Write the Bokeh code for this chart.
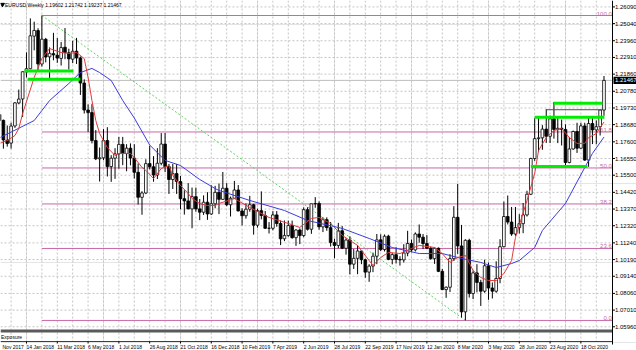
from bokeh.plotting import figure
from bokeh.models import Range1d, ColumnDataSource
from bokeh.embed import file_html
from bokeh.resources import INLINE
from bokeh.core.properties import value

# ---------------- data ----------------
header = "EURUSD,Weekly  1.19602 1.21742 1.19237 1.21467"
first_bar = -7  # bar index of the first weekly candle (0 = week of 14 Jan 2018)

opens = [1.1932, 1.1895, 1.1770, 1.1752, 1.1860, 1.2005, 1.2030, 1.2200,
         1.2220, 1.2425, 1.2460, 1.2250, 1.2405, 1.2295, 1.2315, 1.2305,
         1.2285, 1.2355, 1.2320, 1.2280, 1.2330, 1.2288, 1.2130, 1.1960,
         1.1944, 1.1768, 1.1653, 1.1659, 1.1768, 1.1604, 1.1657, 1.1684,
         1.1744, 1.1686, 1.1720, 1.1658, 1.1568, 1.1411, 1.1438, 1.1623,
         1.1603, 1.1551, 1.1625, 1.1746, 1.1604, 1.1523, 1.1560, 1.1510,
         1.1402, 1.1388, 1.1338, 1.1415, 1.1338, 1.1317, 1.1380, 1.1306,
         1.1370, 1.1442, 1.1398, 1.1468, 1.1364, 1.1405, 1.1457, 1.1325,
         1.1295, 1.1336, 1.1364, 1.1235, 1.1327, 1.1296, 1.1216, 1.1216,
         1.1300, 1.1246, 1.1150, 1.1170, 1.1233, 1.1157, 1.1205, 1.1170,
         1.1333, 1.1210, 1.1370, 1.1372, 1.1225, 1.1270, 1.1220, 1.1127,
         1.1108, 1.1200, 1.1090, 1.1142, 1.0990, 1.1027, 1.1073, 1.1018,
         1.0940, 1.0978, 1.1040, 1.1143, 1.1082, 1.1166, 1.1020, 1.1050,
         1.1020, 1.1017, 1.1060, 1.1120, 1.1080, 1.1180, 1.1160, 1.1120,
         1.1090, 1.1025, 1.1090, 1.0945, 1.0830, 1.0845, 1.1025, 1.1285,
         1.1105, 1.0690, 1.1140, 1.0805, 1.0935, 1.0875, 1.0820, 1.0980,
         1.0840, 1.0820, 1.0900, 1.1100, 1.1290, 1.1255, 1.1180, 1.1220,
         1.1245, 1.1300, 1.1430, 1.1655, 1.1780, 1.1785, 1.1840, 1.1795,
         1.1905, 1.1838, 1.1845, 1.1838, 1.1630, 1.1715, 1.1825, 1.1720,
         1.1860, 1.1645, 1.1875, 1.1835, 1.1855, 1.19602]
highs = [1.1961, 1.1900, 1.1863, 1.1881, 1.2010, 1.2089, 1.2203, 1.2323,
         1.2537, 1.2516, 1.2475, 1.2555, 1.2414, 1.2354, 1.2446, 1.2413,
         1.2388, 1.2476, 1.2346, 1.2396, 1.2414, 1.2297, 1.2153, 1.1996,
         1.1997, 1.1834, 1.1724, 1.1840, 1.1852, 1.1676, 1.1720, 1.1791,
         1.1791, 1.1745, 1.1750, 1.1745, 1.1624, 1.1449, 1.1650, 1.1734,
         1.1670, 1.1720, 1.1815, 1.1815, 1.1621, 1.1621, 1.1621, 1.1545,
         1.1455, 1.1500, 1.1472, 1.1472, 1.1400, 1.1423, 1.1443, 1.1486,
         1.1483, 1.1497, 1.1570, 1.1500, 1.1416, 1.1514, 1.1488, 1.1342,
         1.1372, 1.1420, 1.1370, 1.1339, 1.1448, 1.1325, 1.1255, 1.1324,
         1.1324, 1.1265, 1.1265, 1.1264, 1.1264, 1.1210, 1.1215, 1.1348,
         1.1348, 1.1370, 1.1412, 1.1385, 1.1285, 1.1285, 1.1255, 1.1150,
         1.1250, 1.1230, 1.1153, 1.1165, 1.1085, 1.1110, 1.1075, 1.1025,
         1.0990, 1.1063, 1.1180, 1.1178, 1.1177, 1.1175, 1.1060, 1.1097,
         1.1040, 1.1116, 1.1200, 1.1145, 1.1190, 1.1240, 1.1180, 1.1173,
         1.1100, 1.1095, 1.1095, 1.0960, 1.0850, 1.1053, 1.1355, 1.1495,
         1.1237, 1.1147, 1.1150, 1.0950, 1.0990, 1.0892, 1.1018, 1.1000,
         1.0875, 1.1008, 1.1147, 1.1384, 1.1422, 1.1350, 1.1350, 1.1305,
         1.1375, 1.1452, 1.1660, 1.1908, 1.1916, 1.1865, 1.1966, 1.1925,
         1.2011, 1.1917, 1.1900, 1.1870, 1.1790, 1.1831, 1.1880, 1.1880,
         1.1880, 1.1920, 1.1920, 1.1895, 1.1962, 1.21742]
lows = [1.1810, 1.1717, 1.1730, 1.1717, 1.1848, 1.1996, 1.1916, 1.2165,
        1.2217, 1.2336, 1.2206, 1.2233, 1.2260, 1.2154, 1.2273, 1.2257,
        1.2240, 1.2280, 1.2215, 1.2255, 1.2250, 1.2055, 1.1938, 1.1822,
        1.1750, 1.1645, 1.1510, 1.1645, 1.1542, 1.1508, 1.1527, 1.1591,
        1.1613, 1.1575, 1.1612, 1.1529, 1.1365, 1.1301, 1.1431, 1.1587,
        1.1509, 1.1526, 1.1612, 1.1570, 1.1432, 1.1463, 1.1432, 1.1336,
        1.1302, 1.1335, 1.1216, 1.1320, 1.1267, 1.1300, 1.1269, 1.1300,
        1.1342, 1.1305, 1.1395, 1.1355, 1.1290, 1.1404, 1.1322, 1.1234,
        1.1276, 1.1320, 1.1176, 1.1220, 1.1272, 1.1212, 1.1183, 1.1203,
        1.1226, 1.1110, 1.1135, 1.1163, 1.1150, 1.1105, 1.1116, 1.1160,
        1.1202, 1.1181, 1.1345, 1.1207, 1.1192, 1.1200, 1.1101, 1.1027,
        1.1090, 1.1085, 1.1050, 1.0926, 1.0960, 1.0927, 1.0990, 1.0905,
        1.0879, 1.0940, 1.0990, 1.1072, 1.1070, 1.1015, 1.0989, 1.0994,
        1.0981, 1.1000, 1.1040, 1.1065, 1.1070, 1.1125, 1.1085, 1.1087,
        1.1018, 1.0992, 1.0940, 1.0827, 1.0778, 1.0815, 1.1010, 1.1055,
        1.0654, 1.0636, 1.0780, 1.0770, 1.0813, 1.0727, 1.0810, 1.0766,
        1.0774, 1.0810, 1.0870, 1.1095, 1.1240, 1.1168, 1.1168, 1.1183,
        1.1185, 1.1290, 1.1425, 1.1640, 1.1695, 1.1710, 1.1753, 1.1752,
        1.1780, 1.1752, 1.1737, 1.1612, 1.1625, 1.1710, 1.1690, 1.1715,
        1.1640, 1.1603, 1.1746, 1.1745, 1.1800, 1.19237]
closes = [1.1894, 1.1772, 1.1750, 1.1859, 1.2005, 1.2029, 1.2201, 1.2220,
          1.2427, 1.2461, 1.2250, 1.2406, 1.2294, 1.2317, 1.2307, 1.2287,
          1.2353, 1.2322, 1.2282, 1.2330, 1.2288, 1.2130, 1.1960, 1.1944,
          1.1768, 1.1653, 1.1659, 1.1768, 1.1604, 1.1657, 1.1684, 1.1744,
          1.1686, 1.1720, 1.1658, 1.1568, 1.1411, 1.1438, 1.1623, 1.1603,
          1.1551, 1.1625, 1.1746, 1.1604, 1.1523, 1.1560, 1.1510, 1.1402,
          1.1388, 1.1338, 1.1415, 1.1338, 1.1317, 1.1380, 1.1306, 1.1370,
          1.1442, 1.1398, 1.1468, 1.1364, 1.1405, 1.1457, 1.1325, 1.1295,
          1.1336, 1.1364, 1.1235, 1.1327, 1.1296, 1.1216, 1.1216, 1.1300,
          1.1246, 1.1150, 1.1170, 1.1233, 1.1157, 1.1205, 1.1170, 1.1333,
          1.1210, 1.1370, 1.1372, 1.1225, 1.1270, 1.1220, 1.1127, 1.1108,
          1.1200, 1.1090, 1.1142, 1.0990, 1.1027, 1.1073, 1.1018, 1.0940,
          1.0978, 1.1040, 1.1143, 1.1082, 1.1166, 1.1020, 1.1050, 1.1020,
          1.1017, 1.1060, 1.1120, 1.1080, 1.1180, 1.1160, 1.1120, 1.1090,
          1.1025, 1.1090, 1.0945, 1.0830, 1.0845, 1.1025, 1.1285, 1.1105,
          1.0690, 1.1140, 1.0805, 1.0935, 1.0875, 1.0820, 1.0980, 1.0840,
          1.0820, 1.0900, 1.1100, 1.1290, 1.1255, 1.1180, 1.1220, 1.1245,
          1.1300, 1.1430, 1.1655, 1.1780, 1.1785, 1.1840, 1.1795, 1.1905,
          1.1838, 1.1845, 1.1838, 1.1630, 1.1715, 1.1825, 1.1720, 1.1860,
          1.1645, 1.1875, 1.1835, 1.1855, 1.1960, 1.21467]

bid_price = 1.21467
bid_label = "1.21467"

price_ticks = [1.26090, 1.25040, 1.23960, 1.22910, 1.21860, 1.20780, 1.19730,
               1.18680, 1.17600, 1.16550, 1.15500, 1.14420, 1.13370, 1.12320,
               1.11240, 1.10190, 1.09140, 1.08060, 1.07010, 1.05960]

date_ticks = [-8, 0, 8, 16, 24, 32, 40, 48, 56, 64, 72, 80, 88, 96, 104, 112,
              120, 128, 136, 144]
date_labels = ["Nov 2017", "14 Jan 2018", "11 Mar 2018", "6 May 2018",
               "1 Jul 2018", "26 Aug 2018", "21 Oct 2018", "16 Dec 2018",
               "10 Feb 2019", "7 Apr 2019", "2 Jun 2019", "28 Jul 2019",
               "22 Sep 2019", "17 Nov 2019", "12 Jan 2020", "8 Mar 2020",
               "3 May 2020", "28 Jun 2020", "23 Aug 2020", "18 Oct 2020"]

red_ma_idx = [-7, -5, -3, -2, -1, 2, 4, 6, 9, 11, 13, 15, 16, 17, 18, 19, 21, 23,
              24, 27, 28, 30, 31, 33, 35, 37, 38, 40, 42, 43, 45, 47, 49, 50, 54,
              58, 63, 68, 71, 74, 76, 79, 82, 86, 89, 90, 92, 94, 97, 100, 102,
              106, 108, 110, 112, 114, 116, 118, 120, 122, 124, 126, 127, 130,
              132, 133, 135, 137, 139, 141, 143, 145, 146, 148, 150]
red_ma_val = [1.1750, 1.1768, 1.1800, 1.1844, 1.1938, 1.2165, 1.2284, 1.2347,
              1.2322, 1.2316, 1.2322, 1.2284, 1.2165, 1.2020, 1.1894, 1.1812,
              1.1724, 1.1674, 1.1687, 1.1687, 1.1661, 1.1599, 1.1580, 1.1529,
              1.1592, 1.1611, 1.1548, 1.1485, 1.1435, 1.1403, 1.1372, 1.1359,
              1.1359, 1.1372, 1.1403, 1.1347, 1.1284, 1.1246, 1.1221, 1.1278,
              1.1284, 1.1246, 1.1171, 1.1108, 1.1013, 1.0982, 1.1032, 1.1064,
              1.1057, 1.1089, 1.1108, 1.1095, 1.1057, 1.1001, 1.1032, 1.1045,
              1.0950, 1.0906, 1.0887, 1.0887, 1.0931, 1.1013, 1.1158, 1.1391,
              1.1561, 1.1705, 1.1787, 1.1831, 1.1844, 1.1787, 1.1750, 1.1750,
              1.1787, 1.1812, 1.1885]

blue_ma_idx = [-7, 2, 4, 6, 11, 14, 17, 19, 22, 25, 28, 32, 36, 40, 45, 49, 50,
               58, 67, 73, 82, 89, 95, 102, 108, 113, 118, 122, 126, 128, 132,
               134, 140, 145, 147, 150]
blue_ma_val = [1.1785, 1.1894, 1.1957, 1.2020, 1.2127, 1.2196, 1.2222, 1.2196,
               1.2146, 1.2020, 1.1910, 1.1740, 1.1643, 1.1611, 1.1523, 1.1466,
               1.1454, 1.1391, 1.1328, 1.1265, 1.1215, 1.1152, 1.1095, 1.1057,
               1.1057, 1.1026, 1.1001, 1.0969, 1.0994, 1.1013, 1.1095, 1.1202,
               1.1372, 1.1598, 1.1687, 1.1790]

fib_hi_idx, fib_hi = 4, 1.2555
fib_lo_idx, fib_lo = 114, 1.0636
fib_levels = [0.0, 23.6, 38.2, 50.0, 61.8, 100.0]

zone_start = [-0.5, 0.3, 137, 132, 131]
zone_end = [12.2, 14.0, 149.6, 150.1, 145.7]
zone_price = [1.2206, 1.2154, 1.2003, 1.1915, 1.1605]
thin_start, thin_end, thin_price = 135, 149.6, 1.1962

# ---------------- layout (pixels of the 636x350 window) ----------------
W, H = 636, 350          # whole canvas
PW = 612                 # right edge of the price area (axis line)
BAR_PX = 3.85
X_LEFT = -6.75
Y_REF_PX, Y_REF_PRICE, PX_PER_UNIT = 15.0, 1.2555, 1589.0


def xpx(px):
    return X_LEFT + px / BAR_PX


def ypx(py):
    return Y_REF_PRICE - (py - Y_REF_PX) / PX_PER_UNIT


FONT = value("Liberation Sans")
PINK = "#c868a8"
GRID = "#c4c4c4"
XR = xpx(PW)

p = figure(frame_width=W, frame_height=H,
           x_range=Range1d(xpx(0), xpx(W)), y_range=Range1d(ypx(H), ypx(0)),
           output_backend="svg", toolbar_location=None,
           x_axis_location=None, y_axis_location=None,
           min_border=0, outline_line_color=None, background_fill_color="white")

# grid
nt = len(price_ticks)
p.segment(x0=[xpx(0)] * nt, x1=[XR] * nt, y0=price_ticks, y1=price_ticks,
          line_color=GRID, line_dash="2 2", line_width=1)
vg = list(range(-4, 152, 4))
p.segment(x0=vg, x1=vg, y0=[ypx(0)] * len(vg), y1=[ypx(329)] * len(vg),
          line_color=GRID, line_dash="2 2", line_width=1)
p.segment(x0=vg, x1=vg, y0=[ypx(332)] * len(vg), y1=[ypx(341)] * len(vg),
          line_color=GRID, line_dash="2 2", line_width=1)

# bid line
p.segment(x0=[xpx(0)], x1=[XR], y0=[bid_price], y1=[bid_price],
          line_color="#bdbdbd", line_width=1)

# fibonacci
fib_prices = [fib_lo + (fib_hi - fib_lo) * lv / 100.0 for lv in fib_levels]
n = len(fib_levels)
p.segment(x0=[fib_hi_idx] * n, x1=[XR] * n, y0=fib_prices, y1=fib_prices,
          line_color=PINK, line_width=1)
p.text(x=[XR - 0.2] * n, y=fib_prices, text=["%.1f" % lv for lv in fib_levels],
       text_align="right", text_baseline="bottom", text_color=PINK,
       text_font=FONT, text_font_size="6px")
p.line([fib_hi_idx, fib_lo_idx], [fib_hi, fib_lo], line_color="#5fd35f",
       line_dash="2 2", line_width=1)

# candles
idx = list(range(first_bar, first_bar + len(opens)))
src = ColumnDataSource(dict(
    x=idx, o=opens, h=highs, l=lows, c=closes,
    top=[max(o, c) for o, c in zip(opens, closes)],
    bot=[min(o, c) for o, c in zip(opens, closes)],
    fill=["white" if c >= o else "black" for o, c in zip(opens, closes)]))
p.segment(x0="x", x1="x", y0="l", y1="h", source=src, line_color="black",
          line_width=1)
p.vbar(x="x", top="top", bottom="bot", width=0.7, source=src,
       fill_color="fill", line_color="black", line_width=0.8)

# moving averages
p.line(blue_ma_idx, blue_ma_val, line_color="#3c3cdc", line_width=1)
p.line(red_ma_idx, red_ma_val, line_color="#e03a3a", line_width=1)

# support / resistance lines
p.segment(x0=zone_start, x1=zone_end, y0=zone_price, y1=zone_price,
          line_color="#00ee00", line_width=3)
p.segment(x0=[thin_start], x1=[thin_end], y0=[thin_price], y1=[thin_price],
          line_color="#505050", line_width=1)

# header
p.scatter(x=[xpx(2)], y=[ypx(4)], marker="inverted_triangle", size=4,
          color="black")
p.text(x=[xpx(4.5)], y=[ypx(4.5)], text=[header], text_baseline="middle",
       text_font=FONT, text_font_size="5px", text_color="black")

# exposure sub-window and time scale
p.quad(left=[xpx(0)], right=[XR], top=[ypx(329)], bottom=[ypx(332)],
       fill_color="#5a5a5a", line_color=None)
p.segment(x0=[xpx(0)], x1=[XR], y0=[ypx(341)], y1=[ypx(341)],
          line_color="#404040", line_width=1)
p.text(x=[xpx(0.5)], y=[ypx(336.5)], text=["Exposure"], text_baseline="middle",
       text_font=FONT, text_font_size="5px", text_color="black")
p.segment(x0=date_ticks, x1=date_ticks, y0=[ypx(341)] * len(date_ticks),
          y1=[ypx(343)] * len(date_ticks), line_color="black", line_width=1)
lab_x = [max(t, xpx(2)) for t in date_ticks]
p.text(x=lab_x, y=[ypx(346.5)] * len(date_ticks), text=date_labels,
       text_baseline="middle", text_align="left", text_font=FONT,
       text_font_size="5px", text_color="black")

# price scale on the right
p.segment(x0=[XR], x1=[XR], y0=[ypx(0)], y1=[ypx(344)], line_color="black",
          line_width=1)
p.segment(x0=[XR] * nt, x1=[xpx(PW + 2.5)] * nt, y0=price_ticks, y1=price_ticks,
          line_color="black", line_width=1)
p.text(x=[xpx(PW + 2.5)] * nt, y=price_ticks, text=["%.5f" % t for t in price_ticks],
       text_baseline="middle", text_align="left", text_font=FONT,
       text_font_size="6px", text_color="black")
p.quad(left=[xpx(PW + 1)], right=[xpx(W)], top=[bid_price + 3.6 / PX_PER_UNIT],
       bottom=[bid_price - 3.6 / PX_PER_UNIT], fill_color="black", line_color=None)
p.text(x=[xpx(PW + 2.5)], y=[bid_price], text=[bid_label], text_baseline="middle",
       text_align="left", text_font=FONT, text_font_size="6px", text_color="white")

open("out.html", "w").write(file_html(p, INLINE))
